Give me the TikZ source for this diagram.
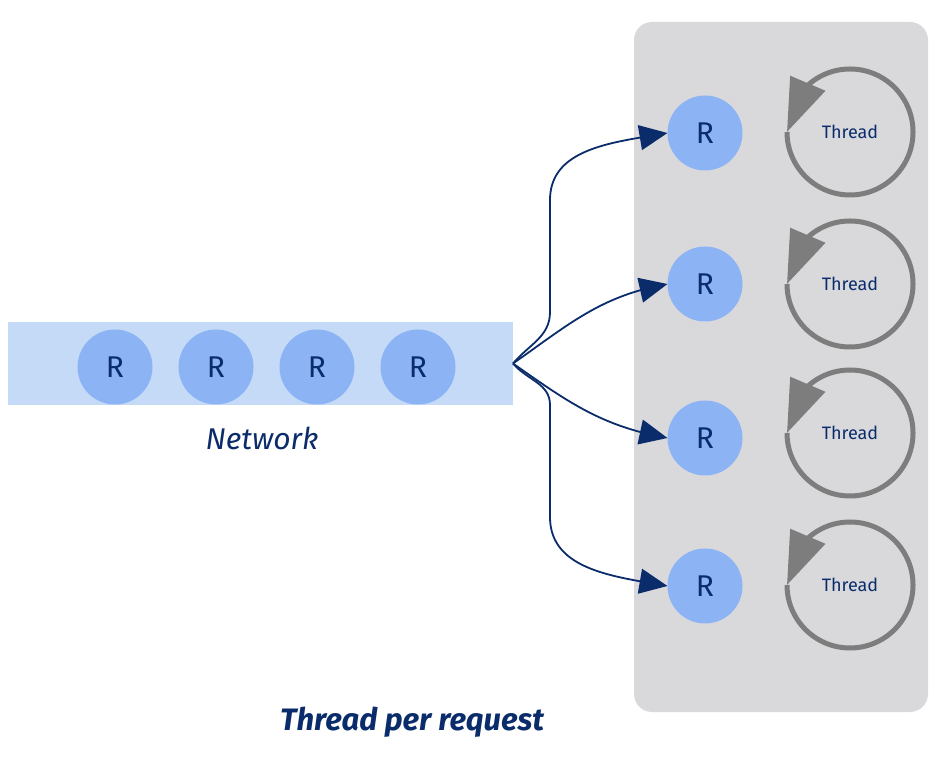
\documentclass[tikz,border=0pt]{standalone}
\usepackage{fontspec}
\setmainfont{Fira Sans}
\usepackage{tikz}
\usetikzlibrary{arrows.meta,bending,positioning}
\definecolor{navy}{RGB}{11,44,107}
\definecolor{reqblue}{RGB}{140,180,245}
\definecolor{bandblue}{RGB}{197,218,247}
\definecolor{panelgray}{RGB}{217,217,220}
\definecolor{loopgray}{RGB}{125,125,125}

\begin{document}
\begin{tikzpicture}[x=1pt, y=1pt, >={Triangle[length=28pt,width=25pt]},
    req/.style={circle, fill=reqblue, minimum size=75pt, inner sep=0pt, outer sep=0pt, text=navy, font=\fontsize{30}{30}\selectfont},
    worker/.style={circle, minimum size=126pt, inner sep=0pt, outer sep=0pt, text=navy, font=\fontsize{18}{18}\selectfont},
    link/.style={->, navy, line width=1.8pt},
    spin/.style={-{Triangle[length=53pt,width=37pt,flex]}, loopgray, line width=5pt}]
    \useasboundingbox (0,0) rectangle (941,757);

    % server side
    \fill[panelgray, rounded corners=18pt] (634,45) rectangle (928,735);
    \foreach \y/\ty [count=\i] in {624/625, 473/473, 319/324, 171/172} {
        \node[req] (r\i) at (705,\y) {R};
        \node[worker] (t\i) at (850,\ty) {Thread};
        \draw[spin] (t\i.west) arc[start angle=180, end angle=540, radius=63pt];
    }

    % network
    \node[fill=bandblue, minimum width=505pt, minimum height=83pt, inner sep=0pt, outer sep=0pt] (net) at (260.5,393.5) {};
    \foreach \x [count=\i] in {115,216,317,418} {
        \node[req] (n\i) at (\x,390) {R};
    }
    \node[text=navy, font=\fontsize{30}{30}\selectfont\itshape] (netlabel) at (262,319) {Network};

    \draw[link] (net.east) to[out=50,in=-90] (550,445) -- (550,557) to[out=90,in=190] (r1.west);
    \draw[link] (net.east) to[out=35,in=190] (r2.west);
    \draw[link] (net.east) to[out=-35,in=170] (r3.west);
    \draw[link] (net.east) to[out=-50,in=90] (550,352) -- (550,240) to[out=-90,in=170] (r4.west);

    \node[text=navy, font=\fontsize{31}{31}\selectfont\bfseries\itshape] (title) at (412,35) {Thread per request};
\end{tikzpicture}
\end{document}
